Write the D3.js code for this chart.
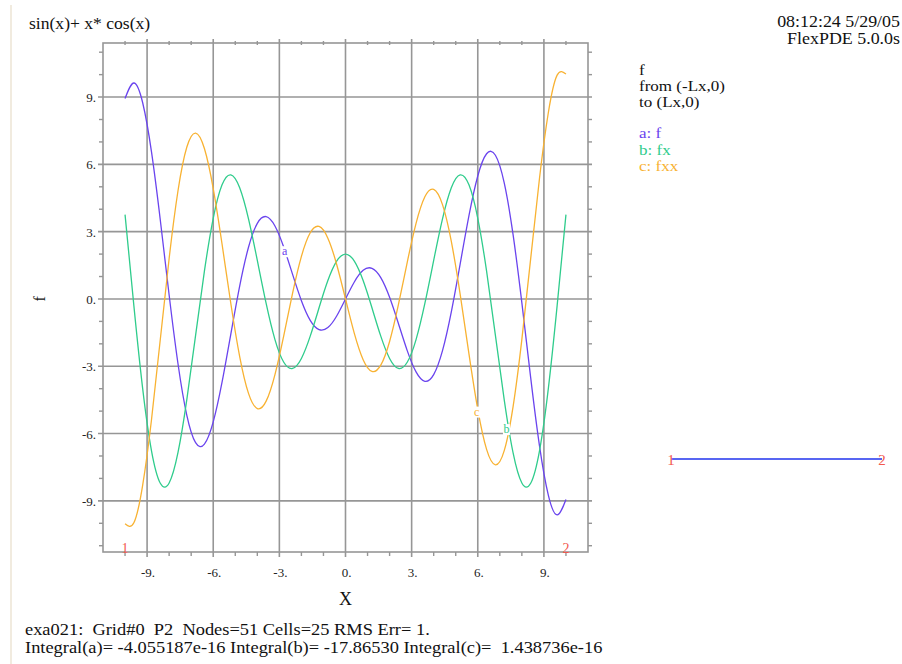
<!DOCTYPE html>
<html>
<head>
<meta charset="utf-8">
<script src="https://cdn.jsdelivr.net/npm/d3@7"></script>
<style>
  html, body { margin: 0; padding: 0; background: #fff; }
  svg { display: block; font-family: "Liberation Serif", "DejaVu Serif", serif; }
</style>
</head>
<body>
<svg id="chart" width="902" height="664"></svg>
<script>
// Node positions along the line from (-Lx,0) to (Lx,0)
const xs = [-10, -9.6, -9.2, -8.8, -8.4, -8, -7.6, -7.2, -6.8, -6.4, -6, -5.6, -5.2, -4.8, -4.4, -4, -3.6, -3.2, -2.8, -2.4, -2, -1.6, -1.2, -0.8, -0.4,
  0, 0.4, 0.8, 1.2, 1.6, 2, 2.4, 2.8, 3.2, 3.6, 4, 4.4, 4.8, 5.2, 5.6, 6, 6.4, 6.8, 7.2, 7.6, 8, 8.4, 8.8, 9.2, 9.6, 10];

// a: f
const fA = [8.935, 9.627, 8.746, 6.553, 3.507, 0.175, -2.877, -5.174, -6.406, -6.473, -5.482, -3.712, -1.553, 0.576, 2.304, 3.371, 3.671, 3.253, 2.303, 1.094, -0.077, -0.953, -1.367, -1.275, -0.758,
  0, 0.758, 1.275, 1.367, 0.953, 0.077, -1.094, -2.303, -3.253, -3.671, -3.371, -2.304, -0.576, 1.553, 3.712, 5.482, 6.473, 6.406, 5.174, 2.877, -0.175, -3.507, -6.553, -8.746, -9.627, -8.935];

// b: fx
const fB = [3.762, -0.296, -4.000, -6.769, -8.217, -8.206, -6.854, -4.498, -1.621, 1.240, 3.597, 5.086, 5.531, 4.957, 3.572, 1.720, -0.200, -1.810, -2.822, -3.096, -2.651, -1.658, -0.394, 0.820, 1.686,
  2, 1.686, 0.820, -0.394, -1.658, -2.651, -3.096, -2.822, -1.810, -0.200, 1.720, 3.572, 4.957, 5.531, 5.086, 3.597, 1.240, -1.621, -4.498, -6.854, -8.206, -8.217, -6.769, -4.000, -0.296, 3.762];

// c: fxx
const fC = [-10.023, -9.976, -8.300, -5.383, -1.798, 1.804, 4.813, 6.761, 7.394, 6.706, 4.923, 2.449, -0.214, -2.569, -4.207, -4.885, -4.556, -3.370, -1.633, 0.257, 1.896, 2.952, 3.231, 2.709, 1.537,
  0, -1.537, -2.709, -3.231, -2.952, -1.896, -0.257, 1.633, 3.370, 4.556, 4.885, 4.207, 2.569, 0.214, -2.449, -4.923, -6.706, -7.394, -6.761, -4.813, -1.804, 1.798, 5.383, 8.300, 9.976, 10.023];

const seriesNames = ["a", "b", "c"];
const seriesLabels = ["a: f", "b: fx", "c: fxx"];
const seriesColors = ["#6a44ee", "#2fcc8c", "#f8b232"];

// Major tick values (gridlines) and labels
const majorTicks = [-9, -6, -3, 0, 3, 6, 9];
const majorTickLabels = ["-9.", "-6.", "-3.", "0.", "3.", "6.", "9."];
const minorTicks = d3.range(-11, 12);

// Curve tag positions (x, y in data units)
const curveTags = [[-2.76, 1.95], [7.3, -5.98], [5.95, -5.2]];

const headerLeft = "sin(x)+ x* cos(x)";
const headerRight = ["08:12:24 5/29/05", "FlexPDE 5.0.0s"];
const plotInfo = ["f", "from (-Lx,0)", "to (Lx,0)"];
const footer = [
  "exa021:  Grid#0  P2  Nodes=51 Cells=25 RMS Err= 1.",
  "Integral(a)= -4.055187e-16 Integral(b)= -17.86530 Integral(c)=  1.438736e-16"
];

const svg = d3.select("#chart");

const x = d3.scaleLinear().domain([-11, 11]).range([103, 588]);
const y = d3.scaleLinear().domain([-11.28, 11.41]).range([552, 43]);

const gridColor = "#969696";
const wide = 1.12; // horizontal stretch of the serif lettering

// page margin rule
svg.append("line").attr("x1", 11).attr("x2", 11).attr("y1", 5).attr("y2", 664)
  .attr("stroke", "#ece5d5").attr("stroke-width", 1.5);

const plot = svg.append("g");

// gridlines (extend a little beyond the frame)
plot.selectAll("line.vgrid").data(majorTicks).join("line")
  .attr("class", "vgrid")
  .attr("x1", d => x(d)).attr("x2", d => x(d))
  .attr("y1", y.range()[1] - 4).attr("y2", y.range()[0] + 5)
  .attr("stroke", gridColor).attr("stroke-width", 1.6);
plot.selectAll("line.hgrid").data(majorTicks).join("line")
  .attr("class", "hgrid")
  .attr("y1", d => y(d)).attr("y2", d => y(d))
  .attr("x1", x.range()[0] - 5).attr("x2", x.range()[1] + 4)
  .attr("stroke", gridColor).attr("stroke-width", 1.6);

// frame
plot.append("rect")
  .attr("x", x.range()[0]).attr("y", y.range()[1])
  .attr("width", x.range()[1] - x.range()[0]).attr("height", y.range()[0] - y.range()[1])
  .attr("fill", "none").attr("stroke", gridColor).attr("stroke-width", 1.6);

// minor ticks on all four sides
const minorX = minorTicks.filter(v => majorTicks.indexOf(v) < 0 && v > -11 && v < 11);
const yMinor = minorTicks.filter(v => majorTicks.indexOf(v) < 0 && v > -11.28 && v < 11.41);
plot.selectAll("line.tb").data(minorX).join("line").attr("class", "tb")
  .attr("x1", d => x(d)).attr("x2", d => x(d))
  .attr("y1", y.range()[0]).attr("y2", y.range()[0] + 4)
  .attr("stroke", gridColor).attr("stroke-width", 1.4);
plot.selectAll("line.tt").data(minorX).join("line").attr("class", "tt")
  .attr("x1", d => x(d)).attr("x2", d => x(d))
  .attr("y1", y.range()[1] - 2).attr("y2", y.range()[1] + 2)
  .attr("stroke", gridColor).attr("stroke-width", 1.4);
plot.selectAll("line.tl").data(yMinor).join("line").attr("class", "tl")
  .attr("y1", d => y(d)).attr("y2", d => y(d))
  .attr("x1", x.range()[0] - 4).attr("x2", x.range()[0])
  .attr("stroke", gridColor).attr("stroke-width", 1.4);
plot.selectAll("line.tr").data(yMinor).join("line").attr("class", "tr")
  .attr("y1", d => y(d)).attr("y2", d => y(d))
  .attr("x1", x.range()[1]).attr("x2", x.range()[1] + 4)
  .attr("stroke", gridColor).attr("stroke-width", 1.4);

// tick labels
plot.selectAll("text.xl").data(majorTicks).join("text").attr("class", "xl")
  .attr("x", d => x(d) + 1).attr("y", 577)
  .attr("text-anchor", "middle").attr("font-size", 13).attr("fill", "#222")
  .text((d, i) => majorTickLabels[i]);
plot.selectAll("text.yl").data(majorTicks).join("text").attr("class", "yl")
  .attr("x", 96).attr("y", d => y(d) + 5)
  .attr("text-anchor", "end").attr("font-size", 13).attr("fill", "#222")
  .text((d, i) => majorTickLabels[i]);

// axis titles
svg.append("text").attr("x", x(0)).attr("y", 605)
  .attr("text-anchor", "middle").attr("font-size", 18).attr("fill", "#111").text("X");
svg.append("text").attr("transform", `translate(45,${y(0)}) rotate(-90)`)
  .attr("text-anchor", "middle").attr("font-size", 16).attr("fill", "#111").text("f");

// curves
const series = [fA, fB, fC];
const line = d3.line()
  .x((d, i) => x(xs[i]))
  .y(d => y(d))
  .curve(d3.curveNatural);

series.forEach((vals, k) => {
  plot.append("path").datum(vals)
    .attr("d", line)
    .attr("fill", "none")
    .attr("stroke", seriesColors[k])
    .attr("stroke-width", 1.3);
});

// curve tags, each knocking out the line beneath it
curveTags.forEach((p, k) => {
  const cx = x(p[0]), cy = y(p[1]);
  plot.append("rect").attr("x", cx - 3.5).attr("y", cy - 9).attr("width", 7).attr("height", 11)
    .attr("fill", "#fff");
  plot.append("text").attr("x", cx).attr("y", cy)
    .attr("text-anchor", "middle").attr("font-size", 12)
    .attr("fill", seriesColors[k]).text(seriesNames[k]);
});

// end point markers of the line
const endColor = "#f2584e";
plot.append("text").attr("x", x(xs[0])).attr("y", 553)
  .attr("text-anchor", "middle").attr("font-size", 14).attr("fill", endColor).text("1");
plot.append("text").attr("x", x(xs[xs.length - 1])).attr("y", 553)
  .attr("text-anchor", "middle").attr("font-size", 14).attr("fill", endColor).text("2");

// helper: place stretched text at an anchor point
function stretched(sel, tx, ty, sx) {
  return sel.attr("transform", `translate(${tx},${ty}) scale(${sx},1)`);
}

// header texts
stretched(svg.append("text"), 29, 29, 1.1)
  .attr("font-size", 16).attr("fill", "#111").text(headerLeft);
headerRight.forEach((t, i) => {
  stretched(svg.append("text"), 900, 27 + i * 17, wide)
    .attr("text-anchor", "end").attr("font-size", 16).attr("fill", "#111").text(t);
});

// plot description and legend
plotInfo.forEach((t, i) => {
  stretched(svg.append("text"), 639, 75 + i * 16, wide)
    .attr("font-size", 15.2).attr("fill", "#111").text(t);
});
seriesLabels.forEach((t, i) => {
  stretched(svg.append("text"), 639, 138 + i * 16.5, wide)
    .attr("font-size", 15.2).attr("fill", seriesColors[i]).text(t);
});

// key sketch of the plotted path
const keyY = 459, keyX1 = 671, keyX2 = 882;
svg.append("line").attr("x1", keyX1).attr("x2", keyX2).attr("y1", keyY).attr("y2", keyY)
  .attr("stroke", "#5866f2").attr("stroke-width", 2);
svg.append("text").attr("x", keyX1).attr("y", keyY + 6).attr("text-anchor", "middle")
  .attr("font-size", 15).attr("fill", endColor).text("1");
svg.append("text").attr("x", keyX2).attr("y", keyY + 6).attr("text-anchor", "middle")
  .attr("font-size", 15).attr("fill", endColor).text("2");

// footer
footer.forEach((t, i) => {
  stretched(svg.append("text"), 25, 635 + i * 18, 1.13)
    .attr("font-size", 16.3).attr("fill", "#111")
    .style("white-space", "pre").text(t);
});
</script>
</body>
</html>
